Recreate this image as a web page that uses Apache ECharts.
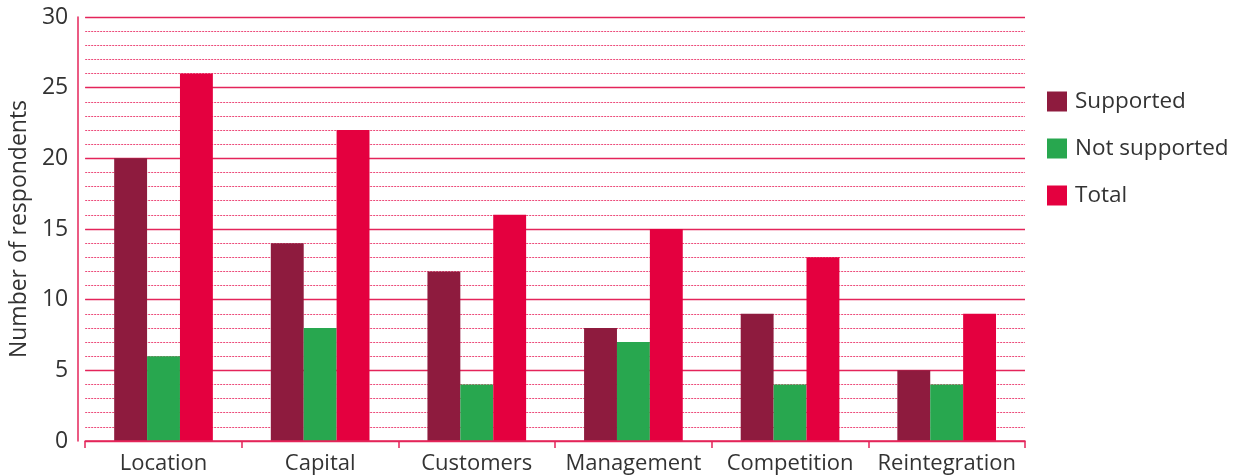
<!DOCTYPE html>
<html>
<head>
<meta charset="utf-8">
<script src="https://cdn.jsdelivr.net/npm/echarts@6/dist/echarts.min.js"></script>
<style>
  html, body { margin: 0; padding: 0; background: #fff; }
  #chart { width: 1237px; height: 476px; }
</style>
</head>
<body>
<div id="chart"></div>
<script>
// Reasons given by respondents, grouped by support status
const categories = ['Location', 'Capital', 'Customers', 'Management', 'Competition', 'Reintegration'];
const supported = [20, 14, 12, 8, 9, 5];
const notSupported = [6, 8, 4, 7, 4, 4];
const total = [26, 22, 16, 15, 13, 9];
const seriesNames = ['Supported', 'Not supported', 'Total'];
const yAxisTitle = 'Number of respondents';

const textColor = '#333333';
const lineColor = '#E4245A';
const fontFamily = '"Open Sans", "DejaVu Sans", sans-serif';

const chart = echarts.init(document.getElementById('chart'), null, { renderer: 'canvas' });

chart.setOption({
  animation: false,
  textStyle: { fontFamily: fontFamily },
  grid: { left: 84, right: 212, top: 17, bottom: 35, containLabel: false },
  legend: {
    orient: 'vertical',
    left: 1047,
    top: 90,
    padding: 0,
    itemWidth: 20,
    itemHeight: 20,
    itemGap: 24,
    icon: 'rect',
    data: seriesNames,
    textStyle: { fontSize: 22.5, color: textColor, fontFamily: fontFamily, padding: [0, 0, 0, 3] }
  },
  xAxis: {
    type: 'category',
    data: categories,
    z: 3,
    axisLine: { show: true, lineStyle: { color: lineColor, width: 1.5 } },
    axisTick: { show: true, length: 7, lineStyle: { color: lineColor, width: 1.5 } },
    axisLabel: { fontSize: 22, color: textColor, margin: 12, interval: 0, fontFamily: fontFamily },
    splitLine: { show: false }
  },
  yAxis: [
    {
      // unit grid: dotted pink lines at every whole number
      type: 'value',
      min: 0,
      max: 30,
      interval: 1,
      z: 0,
      axisLine: { show: false },
      axisTick: { show: false },
      axisLabel: { show: false },
      splitLine: { show: true, lineStyle: { color: '#EC4B7A', width: 1, type: [2, 1] } }
    },
    {
      type: 'value',
      min: 0,
      max: 30,
      interval: 5,
      offset: 7,
      position: 'left',
      z: 2,
      name: yAxisTitle,
      nameLocation: 'middle',
      nameRotate: 90,
      nameGap: 46,
      nameTextStyle: { fontSize: 23, color: textColor, fontFamily: fontFamily },
      axisLine: { show: true, lineStyle: { color: lineColor, width: 1.5 } },
      axisTick: { show: false },
      axisLabel: { fontSize: 23, color: textColor, margin: 10, fontFamily: fontFamily },
      splitLine: { show: true, lineStyle: { color: lineColor, width: 1.3, type: 'solid' } }
    }
  ],
  series: [
    {
      name: seriesNames[0],
      type: 'bar',
      yAxisIndex: 1,
      data: supported,
      itemStyle: { color: '#8E1B3E' },
      barGap: '0%',
      barCategoryGap: '37%'
    },
    {
      name: seriesNames[1],
      type: 'bar',
      yAxisIndex: 1,
      data: notSupported,
      itemStyle: { color: '#28A74F' },
      barGap: '0%',
      barCategoryGap: '37%'
    },
    {
      name: seriesNames[2],
      type: 'bar',
      yAxisIndex: 1,
      data: total,
      itemStyle: { color: '#E4003F' },
      barGap: '0%',
      barCategoryGap: '37%'
    }
  ]
});
</script>
</body>
</html>
